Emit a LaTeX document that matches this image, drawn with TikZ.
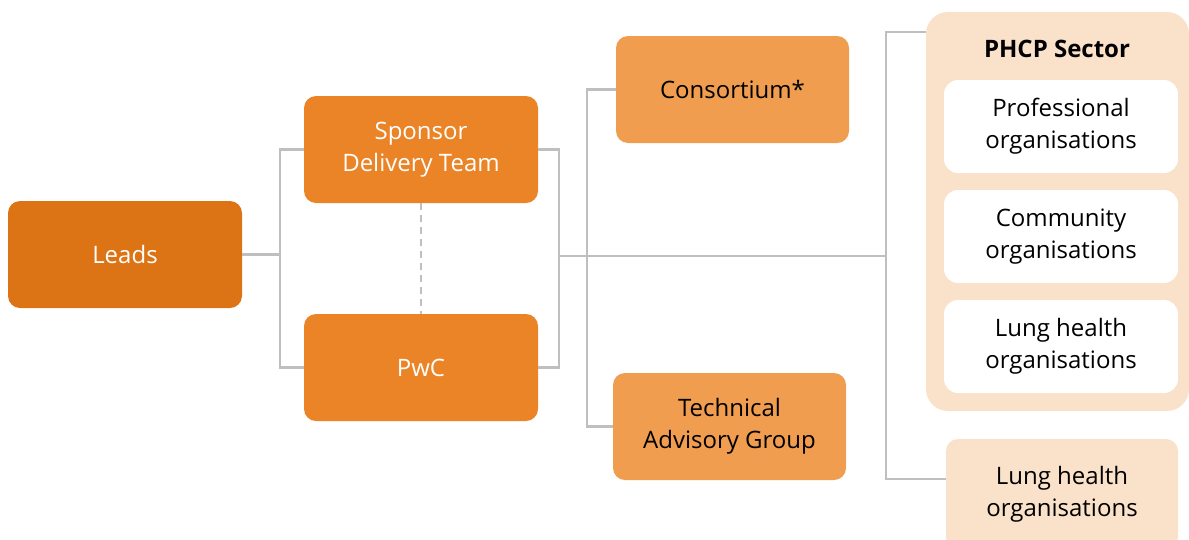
\documentclass[tikz,border=0pt]{standalone}
\usepackage{fontspec}
\setmainfont{Open Sans}
\usepackage{tikz}
\usetikzlibrary{positioning}
\definecolor{leadorange}{HTML}{DC7416}
\definecolor{teamorange}{HTML}{EA8426}
\definecolor{grouporange}{HTML}{F09D50}
\definecolor{sectorpeach}{HTML}{FAE1CA}
\definecolor{linkgrey}{HTML}{BFBFBF}
\tikzset{
    orgnode/.style = {
        align=center,
        text centered,
        font=\fontsize{24}{32}\selectfont,
        rectangle,
        rounded corners=12pt,
        minimum width=234pt,
        minimum height=107pt,
        inner sep=1mm,
        outer sep=0mm
    },
    leadnode/.style = {
        orgnode,
        fill=leadorange,
        text=white
    },
    teamnode/.style = {
        orgnode,
        fill=teamorange,
        text=white
    },
    groupnode/.style = {
        orgnode,
        fill=grouporange,
        text=black
    },
    sectornode/.style = {
        orgnode,
        fill=sectorpeach,
        minimum width=232pt
    },
    membernode/.style = {
        orgnode,
        fill=white,
        rounded corners=14pt,
        minimum width=234pt,
        minimum height=93pt
    },
    link/.style = {
        draw=linkgrey,
        line width=2.5pt
    }
}
\begin{document}
\begin{tikzpicture}[x=1pt,y=-1pt]
    \useasboundingbox (0,0) rectangle (1189,539);
    % sector container
    \node [sectornode, minimum width=263pt, minimum height=399pt,
           rounded corners=22pt] (phcp) at (1057.5,211.5) {};
    \node [font=\fontsize{24}{32}\selectfont\bfseries] (phcptitle) at (1057,49) {PHCP Sector};
    \node [membernode] (prof) at (1061,126.5) {Professional\\organisations};
    \node [membernode] (comm) at (1061,236.5) {Community\\organisations};
    \node [membernode] (lunga) at (1061,346.5) {Lung health\\organisations};
    \node [sectornode, minimum height=110pt] (lungb) at (1062,494) {Lung health\\organisations};

    % main boxes
    \node [leadnode] (leads) at (125,254.5) {Leads};
    \node [teamnode] (sdt) at (421,149.5) {Sponsor\\Delivery Team};
    \node [teamnode] (pwc) at (421,367.5) {PwC};
    \node [groupnode, minimum width=233pt] (cons) at (732.5,89.5) {Consortium*};
    \node [groupnode, minimum width=233pt] (tag) at (729.5,426.5) {Technical\\Advisory Group};

    % connectors
    \coordinate (lj) at (280,254.5);
    \coordinate (rj) at (559,256);
    \coordinate (cj) at (587,256);
    \coordinate (hub) at (886,256);
    \coordinate (rb) at (886,32);
    \draw [link] (leads.east) -- (lj);
    \draw [link] (sdt.west) -| (lj) |- (pwc.west);
    \draw [link] (sdt.east) -| (rj) |- (pwc.east);
    \draw [link] (rj) -- (hub);
    \draw [link] (cons.west) -| (cj) |- (tag.west);
    \draw [link] (rb -| phcp.west) -- (rb) |- ([yshift=15pt]lungb.west);
    \draw [link, dashed, dash pattern=on 7pt off 5pt] (sdt.south) -- (pwc.north);
\end{tikzpicture}
\end{document}
